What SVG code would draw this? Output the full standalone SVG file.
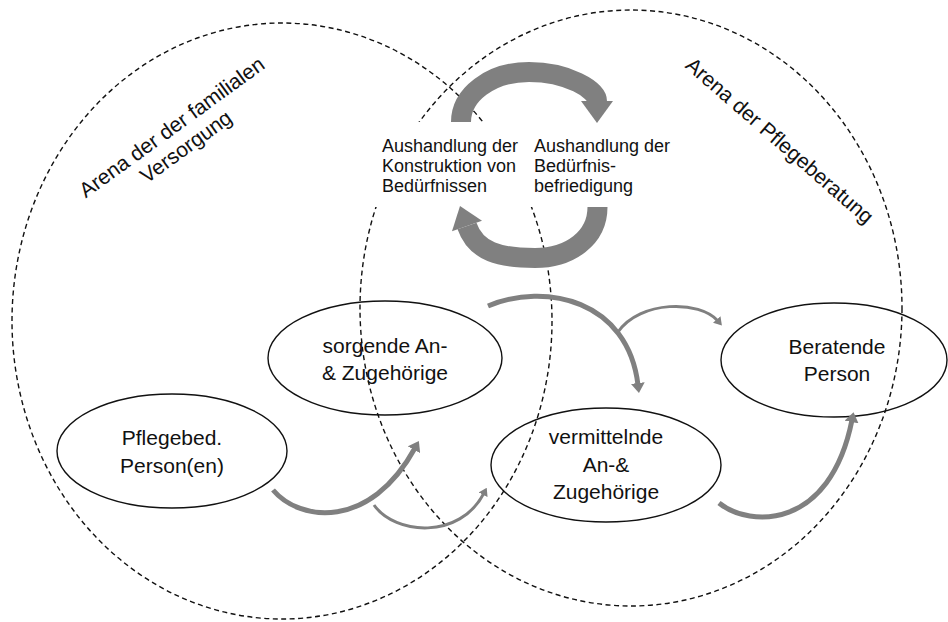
<svg xmlns="http://www.w3.org/2000/svg" width="948" height="622" viewBox="0 0 948 622">
<defs>
<style>
.arena{fill:none;stroke:#111;stroke-width:1.4;stroke-dasharray:5 3.5}
.node{fill:none;stroke:#111;stroke-width:1.4}
.t{font-family:"Liberation Sans",Arial,sans-serif;fill:#111}
.nt{font-size:21px;text-anchor:middle}
.ct{font-size:18px}
.al{font-size:21px;text-anchor:middle}
.thick{fill:none;stroke:#808080;stroke-width:5}
.thin{fill:none;stroke:#808080;stroke-width:3}
.band{fill:none;stroke:#808080;stroke-width:20}
.head{fill:#808080}
</style>
<marker id="hT" markerUnits="userSpaceOnUse" viewBox="0 0 10 14" refX="2" refY="7" markerWidth="10" markerHeight="14" orient="auto">
<path d="M0,0 L10,7 L0,14 Z" fill="#808080"/>
</marker>
<marker id="hS" markerUnits="userSpaceOnUse" viewBox="0 0 8 10" refX="2" refY="5" markerWidth="8" markerHeight="10" orient="auto">
<path d="M0,0 L8,5 L0,10 Z" fill="#808080"/>
</marker>
</defs>
<rect x="0" y="0" width="948" height="622" fill="#fff"/>
<g id="arenas">
<ellipse class="arena" cx="282" cy="321" rx="270" ry="298"/>
<ellipse class="arena" cx="631" cy="308" rx="271" ry="298"/>
</g>
<g id="arena-labels">
<text class="t al" transform="translate(176,133) rotate(-36)"><tspan x="0" y="0">Arena der der familialen</tspan><tspan x="0" y="24">Versorgung</tspan></text>
<text class="t al" transform="translate(775,146) rotate(41)">Arena der Pflegeberatung</text>
</g>
<g id="negotiation">
<rect x="370" y="122" width="312" height="85" fill="#fff"/>
<text class="t ct"><tspan x="382" y="152">Aushandlung der</tspan><tspan x="382" y="172">Konstruktion von</tspan><tspan x="382" y="192">Bedürfnissen</tspan></text>
<text class="t ct"><tspan x="534" y="152">Aushandlung der</tspan><tspan x="534" y="172">Bedürfnis-</tspan><tspan x="534" y="192">befriedigung</tspan></text>
<path class="band" d="M461,122 C461,95 490,72 529,72 C568,72 597,90 597,101"/>
<polygon class="head" points="581,101 613,101 597,123"/>
<path class="band" d="M597.5,207 C597.5,238 570,258 535,258 C500,258 476,252 467,226"/>
<polygon class="head" points="482,220.7 452,231.3 460,206"/>
</g>
<g id="node-pflegebed">
<ellipse class="node" cx="172" cy="451" rx="115" ry="57"/>
<text class="t nt"><tspan x="172" y="445">Pflegebed.</tspan><tspan x="172" y="473">Person(en)</tspan></text>
</g>
<g id="node-sorgende">
<ellipse class="node" cx="385" cy="358" rx="117" ry="57"/>
<text class="t nt"><tspan x="385" y="353">sorgende An-</tspan><tspan x="385" y="380">&amp; Zugehörige</tspan></text>
</g>
<g id="node-vermittelnde">
<ellipse class="node" cx="606" cy="465" rx="115" ry="57"/>
<text class="t nt"><tspan x="606" y="444">vermittelnde</tspan><tspan x="606" y="472">An-&amp;</tspan><tspan x="606" y="499">Zugehörige</tspan></text>
</g>
<g id="node-beratende">
<ellipse class="node" cx="834" cy="360" rx="113" ry="57"/>
<text class="t nt"><tspan x="837" y="354">Beratende</tspan><tspan x="837" y="381">Person</tspan></text>
</g>
<g id="connectors">
<path class="thick" d="M273,490 C300,522 370,530 415,448" marker-end="url(#hT)"/>
<path class="thin" d="M374,505 C395,535 460,540 484,493" marker-end="url(#hS)"/>
<path class="thick" d="M488,306 C545,282 628,300 638,385" marker-end="url(#hT)"/>
<path class="thin" d="M618,332 C640,300 700,300 718,321" marker-end="url(#hS)"/>
<path class="thick" d="M719,503 C750,528 830,530 852,420" marker-end="url(#hT)"/>
</g>
</svg>
